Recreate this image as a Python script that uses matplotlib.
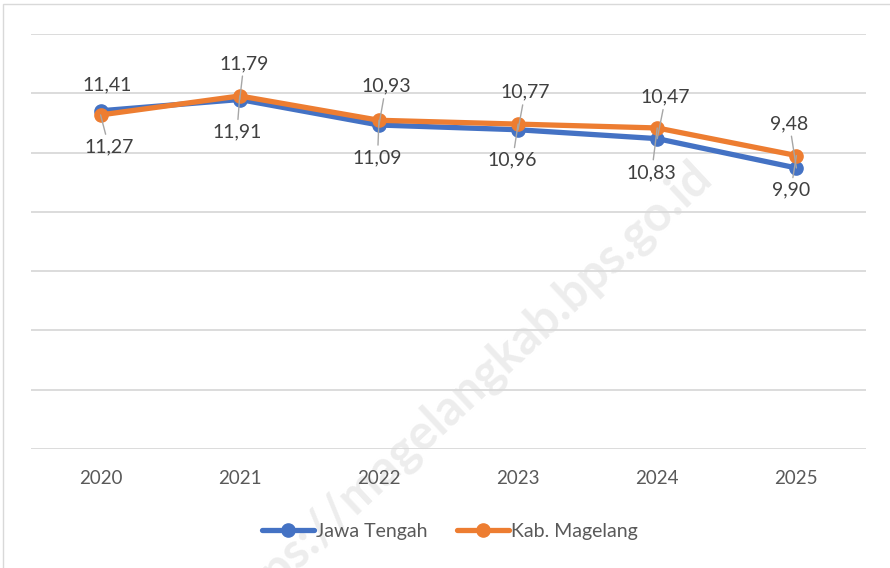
import matplotlib
matplotlib.use("Agg")
import matplotlib.pyplot as plt
from matplotlib.patches import Rectangle

# === Data ===
years = ["2020", "2021", "2022", "2023", "2024", "2025"]
jawa_tengah = [11.41, 11.79, 10.93, 10.77, 10.47, 9.48]
kab_magelang = [11.27, 11.91, 11.09, 10.96, 10.83, 9.90]

# label offsets (points) relative to each point
jt_offsets = [(5, 19), (3, 26), (5, 28), (5, 27), (6, 30), (-5, 32)]
km_offsets = [(6, -23), (-2, -26), (-1, -27), (-4, -26), (-4, -32), (-4, -25)]

BLUE = "#4472C4"
ORANGE = "#ED7D31"
GRID = "#D9D9D9"

plt.rcParams["font.family"] = ["Lato", "DejaVu Sans"]

fig = plt.figure(figsize=(8.9, 5.68), dpi=100)
ax = fig.add_axes([31 / 890, 1 - 449 / 568, 835 / 890, 415 / 568])
ax.set_facecolor("none")

x = list(range(len(years)))
ax.plot(x, jawa_tengah, color=BLUE, lw=3.8, marker="o", ms=9.5,
        solid_capstyle="round", label="Jawa Tengah", zorder=3)
ax.plot(x, kab_magelang, color=ORANGE, lw=3.8, marker="o", ms=9.5,
        solid_capstyle="round", label="Kab. Magelang", zorder=4)

def fmt(v):
    return f"{v:.2f}".replace(".", ",")

for i, (v, off) in enumerate(zip(jawa_tengah, jt_offsets)):
    arrow = None if i == 0 else dict(arrowstyle="-", color="#A6A6A6", lw=1,
                                      shrinkA=1, shrinkB=0)
    ax.annotate(fmt(v), (i, v), xytext=off, textcoords="offset points",
                ha="center", va="center", fontsize=14, color="#404040",
                arrowprops=arrow, zorder=5)
for i, (v, off) in enumerate(zip(kab_magelang, km_offsets)):
    ax.annotate(fmt(v), (i, v), xytext=off, textcoords="offset points",
                ha="center", va="center", fontsize=14, color="#404040",
                arrowprops=dict(arrowstyle="-", color="#A6A6A6", lw=1,
                                shrinkA=1, shrinkB=0), zorder=5)

ax.set_xlim(-0.5, 5.5)
ax.set_ylim(0, 14)
ax.set_yticks(range(0, 15, 2))
ax.set_xticks(x)
ax.set_xticklabels(years)
ax.tick_params(axis="x", length=0, pad=15, labelsize=13.5, labelcolor="#595959")
ax.tick_params(axis="y", length=0, labelleft=False)
ax.grid(axis="y", color=GRID, lw=1.3)
for s in ax.spines.values():
    s.set_visible(False)

ax.legend(loc="center", bbox_to_anchor=(450 / 890, 1 - 531 / 568),
          bbox_transform=fig.transFigure, ncol=2, frameon=False,
          fontsize=14, labelcolor="#595959", handlelength=2.7,
          handletextpad=0.1, columnspacing=1.5)

# watermark
fig.text(704 / 890, 1 - 170 / 568, "https://magelangkab.bps.go.id",
         rotation=43, rotation_mode="anchor", ha="right", va="center",
         fontsize=35, fontweight="bold", color="#EDEDED", zorder=-1)

# outer chart border
fig.patches.append(Rectangle((3 / 890, -0.05), 1.0, 1 - 4 / 568 + 0.05,
                             transform=fig.transFigure, fill=False,
                             edgecolor=GRID, lw=1))

fig.savefig("out.png", dpi=100)
